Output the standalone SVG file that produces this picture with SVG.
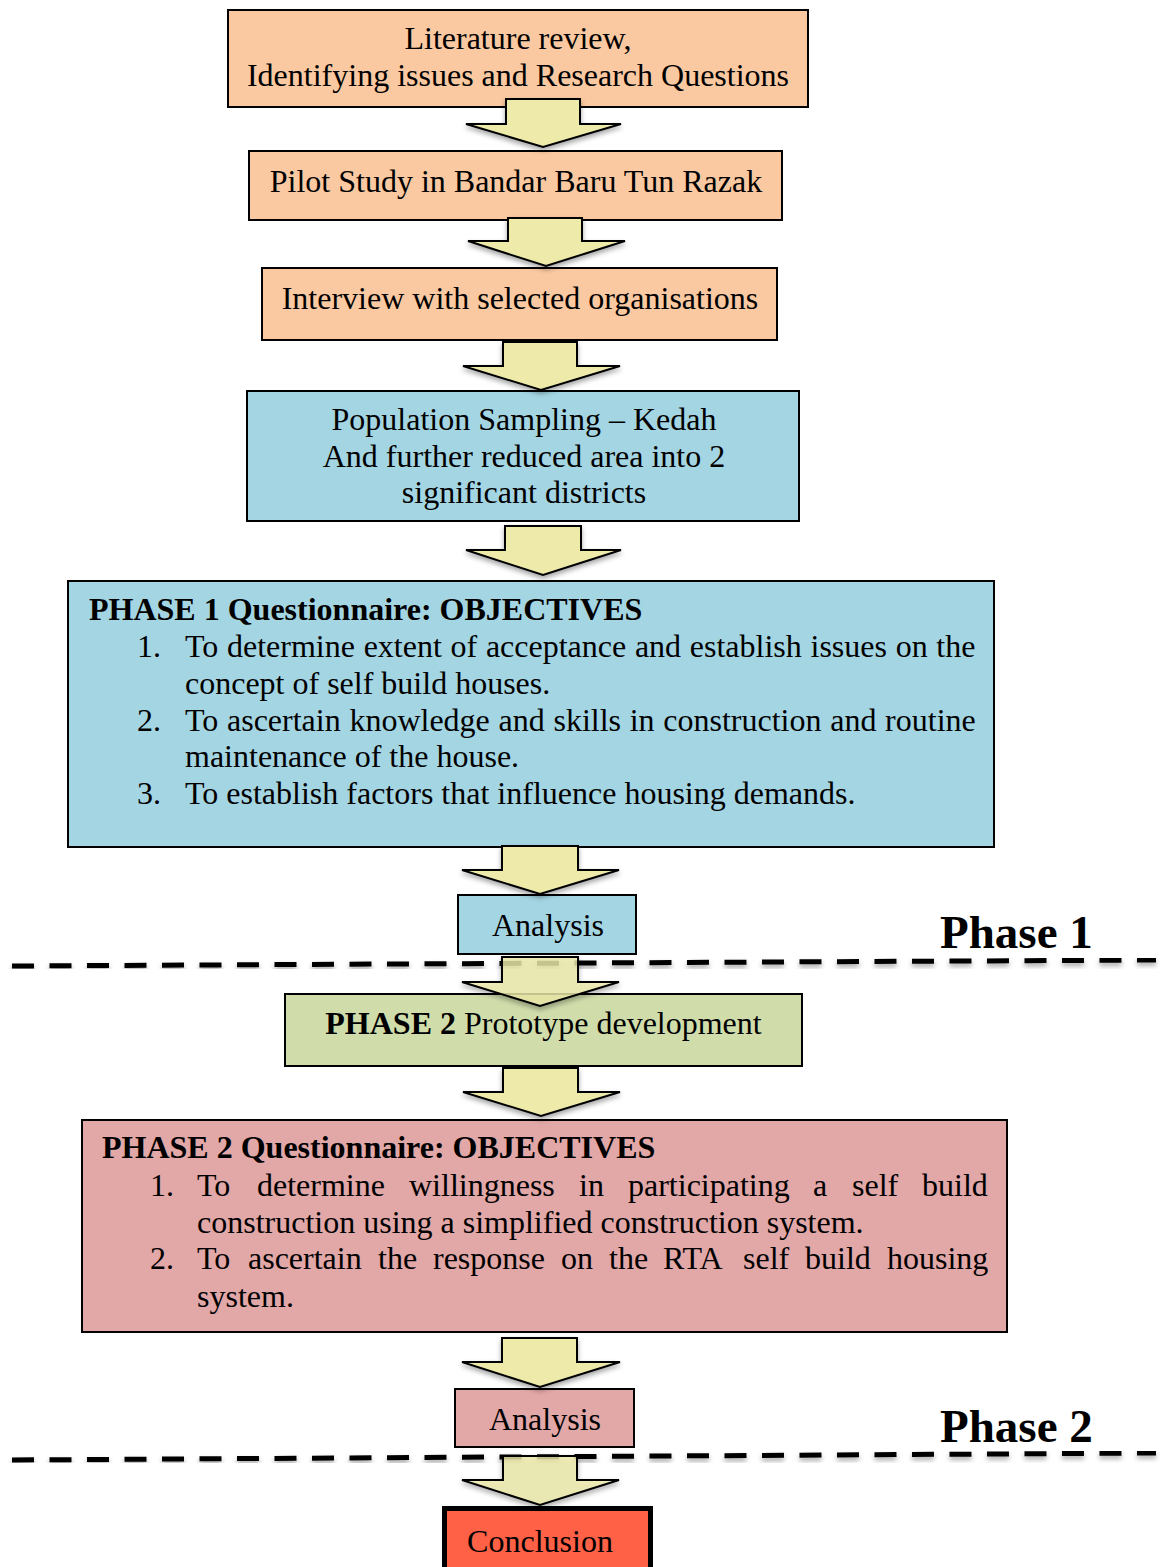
<svg xmlns="http://www.w3.org/2000/svg" width="1164" height="1567" viewBox="0 0 1164 1567">
  <defs>
    <filter id="shadow" x="-20%" y="-20%" width="140%" height="160%">
      <feDropShadow dx="0" dy="3" stdDeviation="2.5" flood-color="#000" flood-opacity="0.35"/>
    </filter>
    <style>
      .t { font-family: "Liberation Serif", "Times New Roman", serif; font-size: 32px; fill: #000; }
      .c { text-anchor: middle; }
      .b { font-weight: bold; }
      .box { stroke: #000; stroke-width: 2; }
      .peach { fill: #FAC9A1; }
      .blue { fill: #A4D5E3; }
      .green { fill: #D0DDAB; }
      .pink { fill: #E2A7A7; }
      .red { fill: #FF6146; stroke-width: 5; }
      .arrow { fill: #EEEBAA; stroke: #000; stroke-width: 2; stroke-linejoin: miter; filter: url(#shadow); }
      .dash { stroke: #000; stroke-width: 5; stroke-dasharray: 22 15.5; fill: none; filter: url(#shadow); }
      .phase { font-family: "Liberation Serif", "Times New Roman", serif; font-size: 47px; font-weight: bold; fill: #000; }
      .just { word-spacing: 0.7px; }
    </style>
  </defs>

  <rect width="1164" height="1567" fill="#fff"/>

  <!-- phase separators -->
  <g id="separators">
    <line class="dash" x1="12" y1="966" x2="1156" y2="960"/>
    <line class="dash" x1="12" y1="1460" x2="1156" y2="1453"/>
    <text class="phase" x="940" y="948">Phase 1</text>
    <text class="phase" x="940" y="1442">Phase 2</text>
  </g>

  <g id="literature">
    <rect class="box peach" x="228" y="10" width="580" height="97"/>
    <text class="t c" x="518" y="49">Literature review,</text>
    <text class="t c" x="518" y="86">Identifying issues and Research Questions</text>
  </g>

  <g id="pilot">
    <rect class="box peach" x="249" y="151" width="533" height="69"/>
    <text class="t c" x="516" y="192">Pilot Study in Bandar Baru Tun Razak</text>
  </g>

  <g id="interview">
    <rect class="box peach" x="262" y="268" width="515" height="72"/>
    <text class="t c" x="520" y="309">Interview with selected organisations</text>
  </g>

  <g id="sampling">
    <rect class="box blue" x="247" y="391" width="552" height="130"/>
    <text class="t c" x="524" y="430">Population Sampling – Kedah</text>
    <text class="t c" x="524" y="467">And further reduced area into 2</text>
    <text class="t c" x="524" y="503">significant districts</text>
  </g>

  <g id="phase1-questionnaire">
    <rect class="box blue" x="68" y="581" width="926" height="266"/>
    <text class="t b" x="89" y="620">PHASE 1 Questionnaire: OBJECTIVES</text>
    <text class="t" x="137" y="657">1.</text>
    <text class="t just" x="185" y="657">To determine extent of acceptance and establish issues on the</text>
    <text class="t" x="185" y="694">concept of self build houses.</text>
    <text class="t" x="137" y="731">2.</text>
    <text class="t just" x="185" y="731">To ascertain knowledge and skills in construction and routine</text>
    <text class="t" x="185" y="767">maintenance of the house.</text>
    <text class="t" x="137" y="804">3.</text>
    <text class="t" x="185" y="804">To establish factors that influence housing demands.</text>
  </g>

  <g id="analysis1">
    <rect class="box blue" x="458" y="895" width="178" height="59"/>
    <text class="t c" x="548" y="936">Analysis</text>
  </g>

  <g id="prototype">
    <rect class="box green" x="285" y="994" width="517" height="72"/>
    <text class="t c" x="543.5" y="1034"><tspan class="b">PHASE 2</tspan> Prototype development</text>
  </g>

  <g id="phase2-questionnaire">
    <rect class="box pink" x="82" y="1120" width="925" height="212"/>
    <text class="t b" x="102" y="1158">PHASE 2 Questionnaire: OBJECTIVES</text>
    <text class="t" x="150" y="1196">1.</text>
    <!-- justified line: words placed individually -->
    <text class="t" y="1196"><tspan x="197">To</tspan><tspan x="257">determine</tspan><tspan x="409">willingness</tspan><tspan x="579">in</tspan><tspan x="628">participating</tspan><tspan x="813">a</tspan><tspan x="852">self</tspan><tspan x="922">build</tspan></text>
    <text class="t" x="197" y="1233">construction using a simplified construction system.</text>
    <text class="t" x="150" y="1269">2.</text>
    <text class="t" y="1269"><tspan x="197">To</tspan><tspan x="248">ascertain</tspan><tspan x="378">the</tspan><tspan x="433">response</tspan><tspan x="561">on</tspan><tspan x="609">the</tspan><tspan x="663">RTA</tspan><tspan x="743">self</tspan><tspan x="805">build</tspan><tspan x="887">housing</tspan></text>
    <text class="t" x="197" y="1307">system.</text>
  </g>

  <g id="analysis2">
    <rect class="box pink" x="455" y="1389" width="179" height="58"/>
    <text class="t c" x="545" y="1430">Analysis</text>
  </g>

  <g id="conclusion">
    <rect class="box red" x="444.5" y="1508.5" width="206" height="70"/>
    <text class="t c" x="540" y="1552">Conclusion</text>
  </g>

  <!-- block arrows between stages -->
  <g id="connectors">
    <path class="arrow" d="M506,99 H580 V124 H621 L543,147 L466,124 H506 Z"/>
    <path class="arrow" d="M508,218 H582 V241 H625 L546,266 L468,241 H508 Z"/>
    <path class="arrow" d="M503,342 H577 V366 H620 L541,390 L463,366 H503 Z"/>
    <path class="arrow" d="M505,526 H581 V550 H621 L543,575 L466,550 H505 Z"/>
    <path class="arrow" d="M502,846 H578 V870 H619 L540,894 L462,870 H502 Z"/>
    <path class="arrow" d="M502,957 H578 V982 H619 L540,1006 L462,982 H502 Z" fill-opacity="0.8"/>
    <path class="arrow" d="M503,1068 H578 V1092 H620 L541,1116 L463,1092 H503 Z"/>
    <path class="arrow" d="M502,1338 H577 V1362 H620 L540,1387 L462,1362 H502 Z"/>
    <path class="arrow" d="M503,1456 H577 V1480 H619 L540,1505 L462,1480 H503 Z" fill-opacity="0.8"/>
  </g>
</svg>
